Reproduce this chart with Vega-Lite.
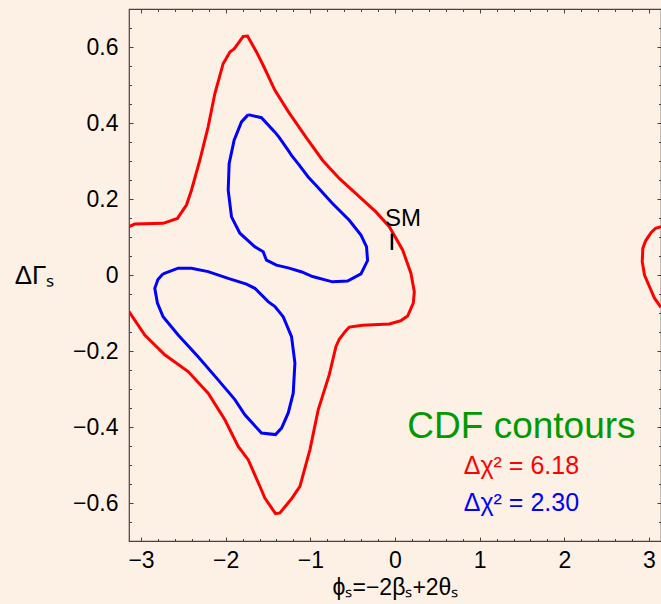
{
  "$schema": "https://vega.github.io/schema/vega-lite/v6.json",
  "width": 532,
  "height": 532,
  "autosize": {"type": "none"},
  "padding": {"left": 129, "top": 9, "right": 0, "bottom": 63},
  "background": "#fdf1e5",
  "config": {
    "view": {"stroke": "#444444", "strokeWidth": 1.2},
    "font": "Liberation Sans",
    "axis": {
      "domain": false,
      "grid": false,
      "ticks": true,
      "tickColor": "#444444",
      "tickWidth": 1,
      "labelFont": "Liberation Sans",
      "labelFontSize": 23,
      "labelColor": "#000000",
      "labelOverlap": false,
      "labelFlush": false,
      "titleFont": "Liberation Sans",
      "titleFontWeight": "normal",
      "titleColor": "#000000"
    }
  },
  "resolve": {"axis": {"x": "independent", "y": "independent"}},
  "layer": [
    {
      "data": {
        "values": [
          {"seg": "r1", "level": "6.18", "i": 1, "phi": -3.1416, "dg": 0.127},
          {"seg": "r1", "level": "6.18", "i": 2, "phi": -3.073, "dg": 0.134},
          {"seg": "r1", "level": "6.18", "i": 3, "phi": -2.739, "dg": 0.136},
          {"seg": "r1", "level": "6.18", "i": 4, "phi": -2.57, "dg": 0.149},
          {"seg": "r1", "level": "6.18", "i": 5, "phi": -2.463, "dg": 0.184},
          {"seg": "r1", "level": "6.18", "i": 6, "phi": -2.404, "dg": 0.223},
          {"seg": "r1", "level": "6.18", "i": 7, "phi": -2.305, "dg": 0.302},
          {"seg": "r1", "level": "6.18", "i": 8, "phi": -2.207, "dg": 0.39},
          {"seg": "r1", "level": "6.18", "i": 9, "phi": -2.128, "dg": 0.477},
          {"seg": "r1", "level": "6.18", "i": 10, "phi": -2.03, "dg": 0.556},
          {"seg": "r1", "level": "6.18", "i": 11, "phi": -1.95, "dg": 0.587},
          {"seg": "r1", "level": "6.18", "i": 12, "phi": -1.9, "dg": 0.595},
          {"seg": "r1", "level": "6.18", "i": 13, "phi": -1.793, "dg": 0.628},
          {"seg": "r1", "level": "6.18", "i": 14, "phi": -1.742, "dg": 0.629},
          {"seg": "r1", "level": "6.18", "i": 15, "phi": -1.636, "dg": 0.587},
          {"seg": "r1", "level": "6.18", "i": 16, "phi": -1.557, "dg": 0.552},
          {"seg": "r1", "level": "6.18", "i": 17, "phi": -1.418, "dg": 0.486},
          {"seg": "r1", "level": "6.18", "i": 18, "phi": -1.26, "dg": 0.43},
          {"seg": "r1", "level": "6.18", "i": 19, "phi": -1.052, "dg": 0.363},
          {"seg": "r1", "level": "6.18", "i": 20, "phi": -0.856, "dg": 0.302},
          {"seg": "r1", "level": "6.18", "i": 21, "phi": -0.658, "dg": 0.254},
          {"seg": "r1", "level": "6.18", "i": 22, "phi": -0.422, "dg": 0.206},
          {"seg": "r1", "level": "6.18", "i": 23, "phi": -0.225, "dg": 0.166},
          {"seg": "r1", "level": "6.18", "i": 24, "phi": -0.067, "dg": 0.127},
          {"seg": "r1", "level": "6.18", "i": 25, "phi": 0.09, "dg": 0.066},
          {"seg": "r1", "level": "6.18", "i": 26, "phi": 0.189, "dg": 0.004},
          {"seg": "r1", "level": "6.18", "i": 27, "phi": 0.228, "dg": -0.044},
          {"seg": "r1", "level": "6.18", "i": 28, "phi": 0.216, "dg": -0.074},
          {"seg": "r1", "level": "6.18", "i": 29, "phi": 0.149, "dg": -0.108},
          {"seg": "r1", "level": "6.18", "i": 30, "phi": 0.071, "dg": -0.12},
          {"seg": "r1", "level": "6.18", "i": 31, "phi": -0.067, "dg": -0.129},
          {"seg": "r1", "level": "6.18", "i": 32, "phi": -0.383, "dg": -0.132},
          {"seg": "r1", "level": "6.18", "i": 33, "phi": -0.54, "dg": -0.137},
          {"seg": "r1", "level": "6.18", "i": 34, "phi": -0.59, "dg": -0.149},
          {"seg": "r1", "level": "6.18", "i": 35, "phi": -0.658, "dg": -0.169},
          {"seg": "r1", "level": "6.18", "i": 36, "phi": -0.697, "dg": -0.188},
          {"seg": "r1", "level": "6.18", "i": 37, "phi": -0.777, "dg": -0.263},
          {"seg": "r1", "level": "6.18", "i": 38, "phi": -0.907, "dg": -0.355},
          {"seg": "r1", "level": "6.18", "i": 39, "phi": -1.005, "dg": -0.46},
          {"seg": "r1", "level": "6.18", "i": 40, "phi": -1.123, "dg": -0.556},
          {"seg": "r1", "level": "6.18", "i": 41, "phi": -1.222, "dg": -0.589},
          {"seg": "r1", "level": "6.18", "i": 42, "phi": -1.359, "dg": -0.626},
          {"seg": "r1", "level": "6.18", "i": 43, "phi": -1.411, "dg": -0.628},
          {"seg": "r1", "level": "6.18", "i": 44, "phi": -1.537, "dg": -0.587},
          {"seg": "r1", "level": "6.18", "i": 45, "phi": -1.596, "dg": -0.556},
          {"seg": "r1", "level": "6.18", "i": 46, "phi": -1.734, "dg": -0.486},
          {"seg": "r1", "level": "6.18", "i": 47, "phi": -1.852, "dg": -0.451},
          {"seg": "r1", "level": "6.18", "i": 48, "phi": -2.009, "dg": -0.381},
          {"seg": "r1", "level": "6.18", "i": 49, "phi": -2.207, "dg": -0.311},
          {"seg": "r1", "level": "6.18", "i": 50, "phi": -2.443, "dg": -0.254},
          {"seg": "r1", "level": "6.18", "i": 51, "phi": -2.719, "dg": -0.21},
          {"seg": "r1", "level": "6.18", "i": 52, "phi": -2.955, "dg": -0.158},
          {"seg": "r1", "level": "6.18", "i": 53, "phi": -3.1416, "dg": -0.096},
          {"seg": "r2", "level": "6.18", "i": 1, "phi": 3.1416, "dg": 0.127},
          {"seg": "r2", "level": "6.18", "i": 2, "phi": 3.077, "dg": 0.123},
          {"seg": "r2", "level": "6.18", "i": 3, "phi": 3.026, "dg": 0.112},
          {"seg": "r2", "level": "6.18", "i": 4, "phi": 2.96, "dg": 0.09},
          {"seg": "r2", "level": "6.18", "i": 5, "phi": 2.927, "dg": 0.07},
          {"seg": "r2", "level": "6.18", "i": 6, "phi": 2.92, "dg": 0.035},
          {"seg": "r2", "level": "6.18", "i": 7, "phi": 2.947, "dg": 0.0},
          {"seg": "r2", "level": "6.18", "i": 8, "phi": 3.006, "dg": -0.031},
          {"seg": "r2", "level": "6.18", "i": 9, "phi": 3.065, "dg": -0.061},
          {"seg": "r2", "level": "6.18", "i": 10, "phi": 3.1416, "dg": -0.085},
          {"seg": "b1", "level": "2.30", "i": 1, "phi": -1.734, "dg": 0.422},
          {"seg": "b1", "level": "2.30", "i": 2, "phi": -1.577, "dg": 0.414},
          {"seg": "b1", "level": "2.30", "i": 3, "phi": -1.418, "dg": 0.376},
          {"seg": "b1", "level": "2.30", "i": 4, "phi": -1.368, "dg": 0.362},
          {"seg": "b1", "level": "2.30", "i": 5, "phi": -1.261, "dg": 0.328},
          {"seg": "b1", "level": "2.30", "i": 6, "phi": -1.222, "dg": 0.315},
          {"seg": "b1", "level": "2.30", "i": 7, "phi": -1.131, "dg": 0.289},
          {"seg": "b1", "level": "2.30", "i": 8, "phi": -1.025, "dg": 0.258},
          {"seg": "b1", "level": "2.30", "i": 9, "phi": -0.934, "dg": 0.236},
          {"seg": "b1", "level": "2.30", "i": 10, "phi": -0.738, "dg": 0.188},
          {"seg": "b1", "level": "2.30", "i": 11, "phi": -0.54, "dg": 0.144},
          {"seg": "b1", "level": "2.30", "i": 12, "phi": -0.402, "dg": 0.105},
          {"seg": "b1", "level": "2.30", "i": 13, "phi": -0.336, "dg": 0.074},
          {"seg": "b1", "level": "2.30", "i": 14, "phi": -0.324, "dg": 0.038},
          {"seg": "b1", "level": "2.30", "i": 15, "phi": -0.402, "dg": 0.003},
          {"seg": "b1", "level": "2.30", "i": 16, "phi": -0.56, "dg": -0.016},
          {"seg": "b1", "level": "2.30", "i": 17, "phi": -0.738, "dg": -0.018},
          {"seg": "b1", "level": "2.30", "i": 18, "phi": -0.974, "dg": -0.004},
          {"seg": "b1", "level": "2.30", "i": 19, "phi": -1.1, "dg": 0.008},
          {"seg": "b1", "level": "2.30", "i": 20, "phi": -1.25, "dg": 0.018},
          {"seg": "b1", "level": "2.30", "i": 21, "phi": -1.4, "dg": 0.026},
          {"seg": "b1", "level": "2.30", "i": 22, "phi": -1.518, "dg": 0.039},
          {"seg": "b1", "level": "2.30", "i": 23, "phi": -1.557, "dg": 0.061},
          {"seg": "b1", "level": "2.30", "i": 24, "phi": -1.655, "dg": 0.074},
          {"seg": "b1", "level": "2.30", "i": 25, "phi": -1.832, "dg": 0.11},
          {"seg": "b1", "level": "2.30", "i": 26, "phi": -1.931, "dg": 0.153},
          {"seg": "b1", "level": "2.30", "i": 27, "phi": -1.97, "dg": 0.223},
          {"seg": "b1", "level": "2.30", "i": 28, "phi": -1.959, "dg": 0.293},
          {"seg": "b1", "level": "2.30", "i": 29, "phi": -1.9, "dg": 0.355},
          {"seg": "b1", "level": "2.30", "i": 30, "phi": -1.813, "dg": 0.403},
          {"seg": "b1", "level": "2.30", "i": 31, "phi": -1.734, "dg": 0.422},
          {"seg": "b2", "level": "2.30", "i": 1, "phi": -2.739, "dg": 0.003},
          {"seg": "b2", "level": "2.30", "i": 2, "phi": -2.561, "dg": 0.018},
          {"seg": "b2", "level": "2.30", "i": 3, "phi": -2.404, "dg": 0.018},
          {"seg": "b2", "level": "2.30", "i": 4, "phi": -2.207, "dg": 0.009},
          {"seg": "b2", "level": "2.30", "i": 5, "phi": -1.97, "dg": -0.009},
          {"seg": "b2", "level": "2.30", "i": 6, "phi": -1.754, "dg": -0.024},
          {"seg": "b2", "level": "2.30", "i": 7, "phi": -1.655, "dg": -0.035},
          {"seg": "b2", "level": "2.30", "i": 8, "phi": -1.498, "dg": -0.07},
          {"seg": "b2", "level": "2.30", "i": 9, "phi": -1.418, "dg": -0.083},
          {"seg": "b2", "level": "2.30", "i": 10, "phi": -1.32, "dg": -0.11},
          {"seg": "b2", "level": "2.30", "i": 11, "phi": -1.222, "dg": -0.162},
          {"seg": "b2", "level": "2.30", "i": 12, "phi": -1.182, "dg": -0.232},
          {"seg": "b2", "level": "2.30", "i": 13, "phi": -1.202, "dg": -0.311},
          {"seg": "b2", "level": "2.30", "i": 14, "phi": -1.261, "dg": -0.363},
          {"seg": "b2", "level": "2.30", "i": 15, "phi": -1.34, "dg": -0.403},
          {"seg": "b2", "level": "2.30", "i": 16, "phi": -1.411, "dg": -0.42},
          {"seg": "b2", "level": "2.30", "i": 17, "phi": -1.577, "dg": -0.416},
          {"seg": "b2", "level": "2.30", "i": 18, "phi": -1.773, "dg": -0.368},
          {"seg": "b2", "level": "2.30", "i": 19, "phi": -1.891, "dg": -0.328},
          {"seg": "b2", "level": "2.30", "i": 20, "phi": -2.089, "dg": -0.276},
          {"seg": "b2", "level": "2.30", "i": 21, "phi": -2.325, "dg": -0.215},
          {"seg": "b2", "level": "2.30", "i": 22, "phi": -2.561, "dg": -0.158},
          {"seg": "b2", "level": "2.30", "i": 23, "phi": -2.739, "dg": -0.11},
          {"seg": "b2", "level": "2.30", "i": 24, "phi": -2.806, "dg": -0.074},
          {"seg": "b2", "level": "2.30", "i": 25, "phi": -2.837, "dg": -0.035},
          {"seg": "b2", "level": "2.30", "i": 26, "phi": -2.8, "dg": -0.012},
          {"seg": "b2", "level": "2.30", "i": 27, "phi": -2.739, "dg": 0.003}
        ]
      },
      "mark": {"type": "line", "strokeWidth": 3, "clip": true},
      "encoding": {
        "x": {
          "field": "phi", "type": "quantitative",
          "scale": {"domain": [-3.14159, 3.14159], "nice": false, "zero": false},
          "axis": {
            "orient": "bottom",
            "values": [-3, -2, -1, 0, 1, 2, 3],
            "labelExpr": "replace(format(datum.value, 'd'), '-', '\u2212')",
            "tickSize": -4,
            "labelPadding": 12,
            "title": "\u03d5\u209b=\u22122\u03b2\u209b+2\u03b8\u209b",
            "titleFontSize": 23,
            "titleBaseline": "alphabetic",
            "titleY": 53
          }
        },
        "y": {
          "field": "dg", "type": "quantitative",
          "scale": {"domain": [-0.7, 0.7], "nice": false, "zero": false},
          "axis": {
            "orient": "left",
            "values": [-0.6, -0.4, -0.2, 0, 0.2, 0.4, 0.6],
            "labelExpr": "datum.value == 0 ? '0' : replace(format(datum.value, '.1f'), '-', '\u2212')",
            "tickSize": -4,
            "labelPadding": 15,
            "title": "\u0394\u0393\u209b",
            "titleFontSize": 26,
            "titleAngle": 0,
            "titleAlign": "center",
            "titleBaseline": "alphabetic",
            "titleX": -95,
            "titleY": 274
          }
        },
        "color": {
          "field": "level", "type": "nominal",
          "scale": {"domain": ["6.18", "2.30"], "range": ["#ff0000", "#0000ff"]},
          "legend": null
        },
        "detail": {"field": "seg"},
        "order": {"field": "i", "type": "quantitative"}
      }
    },
    {
      "data": {"values": [{"phi": -0.036, "lo": 0.066, "hi": 0.109, "label": "SM"}]},
      "mark": {"type": "rule", "color": "#000000", "strokeWidth": 2.5},
      "encoding": {
        "x": {
          "field": "phi", "type": "quantitative",
          "scale": {"domain": [-3.14159, 3.14159], "nice": false, "zero": false},
          "axis": {
            "orient": "bottom",
            "values": [-2.8, -2.6, -2.4, -2.2, -1.8, -1.6, -1.4, -1.2, -0.8, -0.6, -0.4, -0.2, 0.2, 0.4, 0.6, 0.8, 1.2, 1.4, 1.6, 1.8, 2.2, 2.4, 2.6, 2.8],
            "labels": false, "tickSize": -2.5, "title": null
          }
        },
        "y": {
          "field": "lo", "type": "quantitative",
          "scale": {"domain": [-0.7, 0.7], "nice": false, "zero": false},
          "axis": {
            "orient": "left",
            "values": [-0.65, -0.55, -0.5, -0.45, -0.35, -0.3, -0.25, -0.15, -0.1, -0.05, 0.05, 0.1, 0.15, 0.25, 0.3, 0.35, 0.45, 0.5, 0.55, 0.65],
            "labels": false, "tickSize": -2.5, "title": null
          }
        },
        "y2": {"field": "hi"}
      }
    },
    {
      "data": {"values": [{"phi": -0.036, "lo": 0.066, "hi": 0.109, "label": "SM"}]},
      "mark": {"type": "text", "align": "left", "baseline": "alphabetic", "dx": -7, "dy": -8, "fontSize": 24, "font": "Liberation Sans", "color": "#000000"},
      "encoding": {
        "x": {
          "field": "phi", "type": "quantitative",
          "scale": {"domain": [-3.14159, 3.14159], "nice": false, "zero": false},
          "axis": {"orient": "top", "values": [-3, -2, -1, 0, 1, 2, 3], "labels": false, "tickSize": -4, "title": null}
        },
        "y": {
          "field": "hi", "type": "quantitative",
          "scale": {"domain": [-0.7, 0.7], "nice": false, "zero": false},
          "axis": {"orient": "right", "values": [-0.6, -0.4, -0.2, 0, 0.2, 0.4, 0.6], "labels": false, "tickSize": -4, "title": null}
        },
        "text": {"field": "label"}
      }
    },
    {
      "data": {"values": [{"x": 1.493, "y": -0.429, "t": "CDF contours"}]},
      "mark": {"type": "text", "align": "center", "baseline": "alphabetic", "fontSize": 37, "font": "Liberation Sans", "color": "#009a00"},
      "encoding": {
        "x": {
          "field": "x", "type": "quantitative",
          "scale": {"domain": [-3.14159, 3.14159], "nice": false, "zero": false},
          "axis": {
            "orient": "top",
            "values": [-2.8, -2.6, -2.4, -2.2, -1.8, -1.6, -1.4, -1.2, -0.8, -0.6, -0.4, -0.2, 0.2, 0.4, 0.6, 0.8, 1.2, 1.4, 1.6, 1.8, 2.2, 2.4, 2.6, 2.8],
            "labels": false, "tickSize": -2.5, "title": null
          }
        },
        "y": {
          "field": "y", "type": "quantitative",
          "scale": {"domain": [-0.7, 0.7], "nice": false, "zero": false},
          "axis": {
            "orient": "right",
            "values": [-0.65, -0.55, -0.5, -0.45, -0.35, -0.3, -0.25, -0.15, -0.1, -0.05, 0.05, 0.1, 0.15, 0.25, 0.3, 0.35, 0.45, 0.5, 0.55, 0.65],
            "labels": false, "tickSize": -2.5, "title": null
          }
        },
        "text": {"field": "t"}
      }
    },
    {
      "data": {"values": [{"x": 1.493, "y": -0.523, "t": "\u0394\u03c7\u00b2 = 6.18"}]},
      "mark": {"type": "text", "align": "center", "baseline": "alphabetic", "fontSize": 25, "font": "Liberation Sans", "color": "#ff0000"},
      "encoding": {
        "x": {"field": "x", "type": "quantitative", "scale": {"domain": [-3.14159, 3.14159], "nice": false, "zero": false}, "axis": null},
        "y": {"field": "y", "type": "quantitative", "scale": {"domain": [-0.7, 0.7], "nice": false, "zero": false}, "axis": null},
        "text": {"field": "t"}
      }
    },
    {
      "data": {"values": [{"x": 1.493, "y": -0.622, "t": "\u0394\u03c7\u00b2 = 2.30"}]},
      "mark": {"type": "text", "align": "center", "baseline": "alphabetic", "fontSize": 25, "font": "Liberation Sans", "color": "#0000ff"},
      "encoding": {
        "x": {"field": "x", "type": "quantitative", "scale": {"domain": [-3.14159, 3.14159], "nice": false, "zero": false}, "axis": null},
        "y": {"field": "y", "type": "quantitative", "scale": {"domain": [-0.7, 0.7], "nice": false, "zero": false}, "axis": null},
        "text": {"field": "t"}
      }
    }
  ]
}
